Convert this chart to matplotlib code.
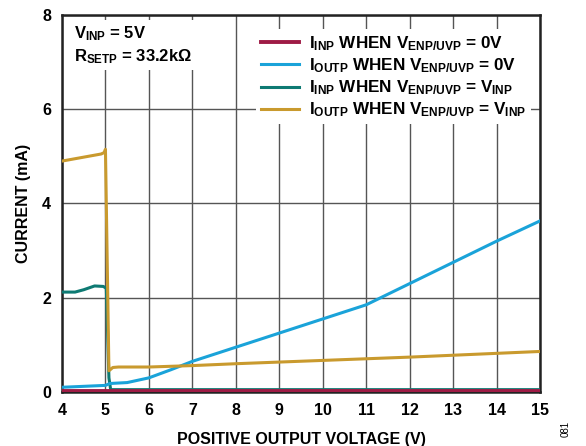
import matplotlib
matplotlib.use("Agg")
import matplotlib.pyplot as plt

plt.rcParams['font.family'] = 'Liberation Sans'
plt.rcParams['font.weight'] = 'bold'
plt.rcParams['mathtext.fontset'] = 'custom'
plt.rcParams['mathtext.rm'] = 'Liberation Sans:bold'
plt.rcParams['mathtext.bf'] = 'Liberation Sans:bold'
plt.rcParams['mathtext.it'] = 'Liberation Sans:bold'

# I_INP when V_ENP/UVP = 0V
x_inp_off = [4, 6, 8, 10, 12, 15]
y_inp_off = [0.02, 0.02, 0.02, 0.02, 0.02, 0.02]

# I_OUTP when V_ENP/UVP = 0V
x_outp_off = [4, 4.5, 5.0, 5.1, 5.5, 6, 6.5, 7, 8, 9, 10, 11, 12, 13, 14, 15]
y_outp_off = [0.10, 0.12, 0.14, 0.18, 0.20, 0.30, 0.47, 0.65, 0.95, 1.25, 1.55, 1.85, 2.30, 2.75, 3.20, 3.63]

# I_INP when V_ENP/UVP = V_INP
x_inp_on = [4, 4.3, 4.5, 4.75, 4.95, 5.02, 5.08, 5.12, 6, 8, 10, 12, 15]
y_inp_on = [2.12, 2.12, 2.17, 2.25, 2.24, 2.2, 0.3, 0.05, 0.05, 0.05, 0.05, 0.05, 0.05]

# I_OUTP when V_ENP/UVP = V_INP
x_outp_on = [4, 4.9, 4.97, 5.0, 5.08, 5.17, 5.3, 6, 7, 8, 10, 12, 15]
y_outp_on = [4.9, 5.05, 5.08, 5.15, 0.45, 0.52, 0.53, 0.53, 0.56, 0.6, 0.67, 0.74, 0.86]

fig = plt.figure(figsize=(5.86, 4.46), dpi=100)
ax = fig.add_axes([0.1058, 0.1211, 0.8157, 0.8453])

ax.plot(x_inp_off, y_inp_off, color='#9e1b45', lw=2.8, label=r'$I_{INP}$ WHEN $V_{ENP/UVP}$ = 0V', zorder=4)
ax.plot(x_outp_off, y_outp_off, color='#1aa3d9', lw=2.2, label=r'$I_{OUTP}$ WHEN $V_{ENP/UVP}$ = 0V', zorder=4)
ax.plot(x_inp_on, y_inp_on, color='#0e7a73', lw=2.2, label=r'$I_{INP}$ WHEN $V_{ENP/UVP}$ = $V_{INP}$', zorder=3)
ax.plot(x_outp_on, y_outp_on, color='#c99a2e', lw=2.2, label=r'$I_{OUTP}$ WHEN $V_{ENP/UVP}$ = $V_{INP}$', zorder=4)

ax.set_xlim(4, 15)
ax.set_ylim(0, 8)
ax.set_xticks(range(4, 16))
ax.set_yticks([0, 2, 4, 6, 8])
ax.grid(True, color='#555555', lw=1.0)
ax.tick_params(length=0, labelsize=11.5, pad=8)
for s in ax.spines.values():
    s.set_linewidth(1.8)
    s.set_color('#222222')

ax.set_xlabel('POSITIVE OUTPUT VOLTAGE (V)', fontsize=11.5, fontweight='bold', labelpad=10)
ax.set_ylabel('CURRENT (mA)', fontsize=11.5, fontweight='bold', labelpad=8)

ax.text(0.025, 0.975, r'$V_{INP}$ = 5V' + '\n' + r'$R_{SETP}$ = 33.2k$\Omega$',
        transform=ax.transAxes, fontsize=12, fontweight='bold', va='top', ha='left',
        linespacing=1.3, zorder=5,
        bbox=dict(facecolor='white', edgecolor='none', pad=3))

leg = ax.legend(loc='upper right', bbox_to_anchor=(1.0, 0.985), fontsize=12.3, frameon=True,
                framealpha=1, edgecolor='none', fancybox=False, handlelength=2.2,
                handletextpad=0.6, labelspacing=0.2, borderpad=0.3)
leg.set_zorder(6)

fig.text(0.965, 0.02, '081', rotation=90, fontsize=7, fontweight='normal', ha='center', va='bottom')

fig.savefig('out.png', dpi=100)
